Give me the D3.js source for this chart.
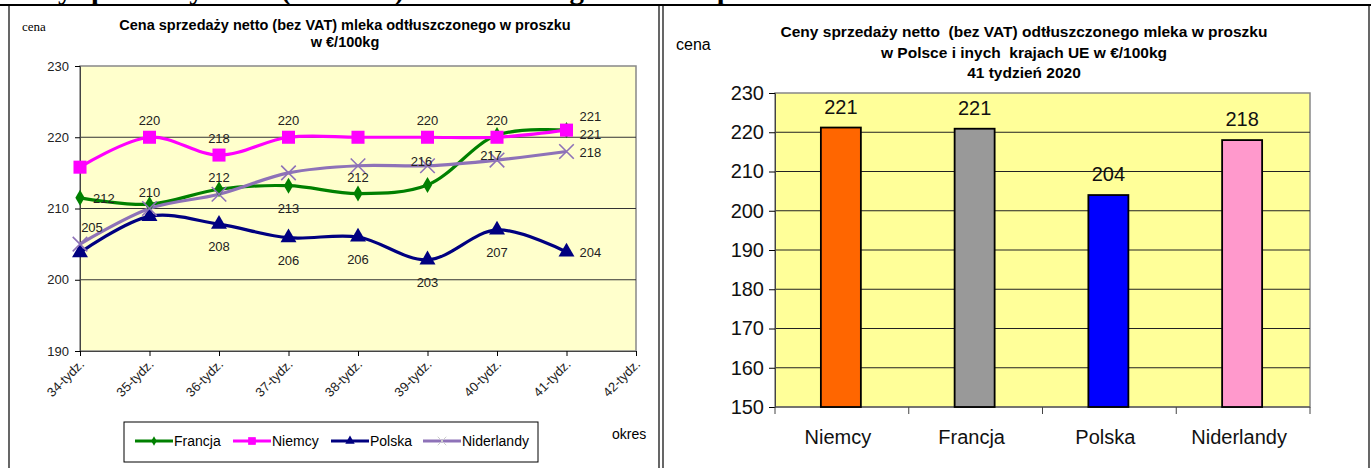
<!DOCTYPE html>
<html>
<head>
<meta charset="utf-8">
<script src="https://cdn.jsdelivr.net/npm/d3@7"></script>
<style>
  body { margin: 0; background: #fff; }
  text { font-family: "Liberation Sans", Arial, sans-serif; }
</style>
</head>
<body>
<div id="canvas"></div>
<script>
// ---- data: left line chart
const weeks = ["34-tydz.", "35-tydz.", "36-tydz.", "37-tydz.", "38-tydz.", "39-tydz.", "40-tydz.", "41-tydz.", "42-tydz."];
const francja = [211.5, 210.6, 212.7, 213.2, 212.1, 213.3, 220.3, 221];
const niemcy = [215.8, 220, 217.5, 220, 220, 220, 220, 221];
const polska = [203.8, 208.9, 207.8, 205.9, 206, 202.8, 207, 203.9];
const niderlandy = [205, 210, 212, 215, 216, 216, 216.8, 218];
// which points carry a visible value label (null = none)
const francjaLabels = ["212", null, null, "213", "212", null, null, "221"];
const niemcyLabels = [null, "220", "218", "220", null, "220", "220", "221"];
const polskaLabels = [null, null, "208", "206", "206", "203", "207", "204"];
const niderlandyLabels = ["205", "210", "212", null, null, "216", "217", "218"];
const leftTicks = [190, 200, 210, 220, 230];

// ---- data: right bar chart
const countries = ["Niemcy", "Francja", "Polska", "Niderlandy"];
const week41 = [221.2, 220.9, 204, 218];
const rightTicks = [150, 160, 170, 180, 190, 200, 210, 220, 230];

const width = 1371, height = 468;
const svg = d3.select("#canvas").append("svg")
    .attr("width", width).attr("height", height);

// page text cut off at the top
svg.append("text")
    .attr("x", 8).attr("y", -1)
    .style("font-family", "'Liberation Serif', 'Times New Roman', serif")
    .style("font-weight", "bold").style("font-size", "29px")
    .text("Ceny sprzedaży netto (bez VAT) odtłuszczonego mleka w proszku");

// frames
svg.append("line").attr("x1", 0).attr("x2", width).attr("y1", 5).attr("y2", 5)
    .attr("stroke", "#000").attr("stroke-width", 2);
[9, 659, 663, 1369].forEach(x => {
    svg.append("line").attr("x1", x).attr("x2", x).attr("y1", 5).attr("y2", height)
        .attr("stroke", "#000").attr("stroke-width", 1.2);
});

// ================= left chart =================
const L = svg.append("g");
const x = d3.scalePoint().domain(weeks).range([80, 636]);
const y = d3.scaleLinear().domain([190, 230]).range([351, 66]);

L.append("text").attr("x", 22).attr("y", 31)
    .style("font-family", "'Liberation Serif', serif").style("font-size", "13px").text("cena");
L.append("text").attr("x", 345).attr("y", 30).attr("text-anchor", "middle")
    .style("font-weight", "bold").style("font-size", "14.5px")
    .text("Cena sprzedaży netto (bez VAT) mleka odtłuszczonego w proszku");
L.append("text").attr("x", 345).attr("y", 47).attr("text-anchor", "middle")
    .style("font-weight", "bold").style("font-size", "14.5px").text("w €/100kg");

L.append("rect").attr("x", 80).attr("y", y(230)).attr("width", 636 - 80).attr("height", y(190) - y(230))
    .attr("fill", "#FFFFCC").attr("stroke", "#888").attr("stroke-width", 1.5);

L.selectAll("line.grid").data(leftTicks.slice(1, -1)).enter().append("line")
    .attr("class", "grid")
    .attr("x1", 80).attr("x2", 636).attr("y1", d => y(d)).attr("y2", d => y(d))
    .attr("stroke", "#333").attr("stroke-width", 1);

const yAxisL = L.append("g").attr("transform", "translate(80,0)")
    .call(d3.axisLeft(y).tickValues(leftTicks).tickSize(5).tickPadding(6).tickFormat(d3.format("d")));
yAxisL.select(".domain").attr("stroke", "#444");
yAxisL.selectAll("text").style("font-size", "13px").attr("fill", "#222");

const xAxisL = L.append("g").attr("transform", "translate(0,351)")
    .call(d3.axisBottom(x).tickSize(5).tickFormat(""));
xAxisL.select(".domain").attr("stroke", "#444");
L.selectAll("text.xlab").data(weeks).enter().append("text")
    .attr("class", "xlab")
    .attr("text-anchor", "end")
    .attr("transform", d => `translate(${x(d) + 5},${365}) rotate(-45)`)
    .style("font-size", "13px").attr("fill", "#222")
    .text(d => d);

L.append("text").attr("x", 612).attr("y", 439).style("font-size", "14px").text("okres");

const series = [
    { name: "Francja", values: francja, labels: francjaLabels, color: "#008000", symbol: d3.symbolDiamond, size: 75,
      place: ["r", null, null, "b", "a", null, null, "rd"] },
    { name: "Niemcy", values: niemcy, labels: niemcyLabels, color: "#FF00FF", symbol: d3.symbolSquare, size: 170,
      place: [null, "a", "a", "a", null, "a", "a", "ru"] },
    { name: "Polska", values: polska, labels: polskaLabels, color: "#000080", symbol: d3.symbolTriangle, size: 110,
      place: [null, null, "b", "b", "b", "b", "b", "r"] },
    { name: "Niderlandy", values: niderlandy, labels: niderlandyLabels, color: "#8E72B8", symbol: d3.symbolTimes, size: 140,
      place: ["ar", "a", "a", null, null, "c", "c", "r"] }
];

const line = d3.line()
    .x((d, i) => x(weeks[i]))
    .y(d => y(d))
    .curve(d3.curveCatmullRom.alpha(0.5));

const offsets = {
    a: [0, -12, "middle"], b: [0, 27, "middle"], r: [13, 5, "start"],
    ru: [13, -9, "start"], rd: [13, 9, "start"], ar: [12, -12, "middle"], c: [-6, 0, "middle"]
};

series.forEach(s => {
    L.append("path").datum(s.values)
        .attr("d", line).attr("fill", "none")
        .attr("stroke", s.color).attr("stroke-width", 3.2);
});
series.forEach(s => {
    const stroke = s.symbol === d3.symbolTimes;
    L.selectAll(null).data(s.values).enter().append("path")
        .attr("transform", (d, i) => `translate(${x(weeks[i])},${y(d)})`)
        .attr("d", d3.symbol().type(s.symbol).size(s.size))
        .attr("fill", stroke ? "none" : s.color)
        .attr("stroke", s.color).attr("stroke-width", stroke ? 1.6 : 0);
});
series.forEach(s => {
    s.values.forEach((v, i) => {
        if (!s.labels[i]) return;
        const o = offsets[s.place[i]];
        L.append("text")
            .attr("x", x(weeks[i]) + o[0]).attr("y", y(v) + o[1])
            .attr("text-anchor", o[2])
            .style("font-size", "13px").attr("fill", "#222")
            .text(s.labels[i]);
    });
});

// legend
const lg = L.append("g");
lg.append("rect").attr("x", 124).attr("y", 422).attr("width", 414).attr("height", 40)
    .attr("fill", "#fff").attr("stroke", "#000").attr("stroke-width", 1);
const legendX = [135, 233, 331, 423];
series.forEach((s, i) => {
    const lx = legendX[i];
    lg.append("line").attr("x1", lx).attr("x2", lx + 38).attr("y1", 441).attr("y2", 441)
        .attr("stroke", s.color).attr("stroke-width", 3.2);
    const stroke = s.symbol === d3.symbolTimes;
    lg.append("path").attr("transform", `translate(${lx + 19},441)`)
        .attr("d", d3.symbol().type(s.symbol).size(s.size * 0.35))
        .attr("fill", stroke ? "none" : s.color)
        .attr("stroke", stroke ? "#ccc" : s.color).attr("stroke-width", stroke ? 1 : 0);
    lg.append("text").attr("x", lx + 39).attr("y", 446).style("font-size", "14px").text(s.name);
});

// ================= right chart =================
const R = svg.append("g");
const xb = d3.scaleBand().domain(countries).range([775, 1310]).paddingInner(0).paddingOuter(0);
const yb = d3.scaleLinear().domain([150, 230]).range([407, 93]);

R.append("text").attr("x", 676).attr("y", 50).style("font-size", "16px").text("cena");
const titleR = ["Ceny sprzedaży netto  (bez VAT) odtłuszczonego mleka w proszku",
    "w Polsce i inych  krajach UE w €/100kg", "41 tydzień 2020"];
titleR.forEach((t, i) => {
    R.append("text").attr("x", 1024).attr("y", 37 + i * 20.5).attr("text-anchor", "middle")
        .style("font-weight", "bold").style("font-size", "15.5px").style("white-space", "pre")
        .attr("xml:space", "preserve").text(t);
});

R.append("rect").attr("x", 775).attr("y", yb(230)).attr("width", 1310 - 775).attr("height", yb(150) - yb(230))
    .attr("fill", "#FFFF99").attr("stroke", "#888").attr("stroke-width", 1.5);
R.selectAll("line.grid").data(rightTicks.slice(1, -1)).enter().append("line")
    .attr("x1", 775).attr("x2", 1310).attr("y1", d => yb(d)).attr("y2", d => yb(d))
    .attr("stroke", "#222").attr("stroke-width", 1);

const yAxisR = R.append("g").attr("transform", "translate(775,0)")
    .call(d3.axisLeft(yb).tickValues(rightTicks).tickSize(6).tickPadding(5).tickFormat(d3.format("d")));
yAxisR.select(".domain").attr("stroke", "#444");
yAxisR.selectAll("text").style("font-size", "20px").attr("fill", "#111");

// category boundary ticks
const xAxisR = R.append("g").attr("transform", "translate(0,407)");
xAxisR.append("line").attr("x1", 775).attr("x2", 1310).attr("y1", 0).attr("y2", 0).attr("stroke", "#444");
xAxisR.selectAll("line.t").data(countries.concat([null])).enter().append("line")
    .attr("x1", (d, i) => 775 + i * xb.bandwidth()).attr("x2", (d, i) => 775 + i * xb.bandwidth())
    .attr("y1", 0).attr("y2", 7).attr("stroke", "#444");
xAxisR.selectAll("text").data(countries).enter().append("text")
    .attr("x", d => xb(d) + xb.bandwidth() / 2 - 4).attr("y", 37)
    .attr("text-anchor", "middle").style("font-size", "20px").attr("fill", "#111")
    .text(d => d);

const barColors = ["#FF6600", "#999999", "#0000FF", "#FF99CC"];
const barW = 40;
R.selectAll("rect.bar").data(week41).enter().append("rect")
    .attr("class", "bar")
    .attr("x", (d, i) => xb(countries[i]) + xb.bandwidth() / 2 - barW / 2 - 1)
    .attr("y", d => yb(d))
    .attr("width", barW).attr("height", d => yb(150) - yb(d))
    .attr("fill", (d, i) => barColors[i])
    .attr("stroke", "#000").attr("stroke-width", 1.8);
R.selectAll("text.val").data(week41).enter().append("text")
    .attr("x", (d, i) => xb(countries[i]) + xb.bandwidth() / 2 - 1)
    .attr("y", d => yb(d) - 14)
    .attr("text-anchor", "middle").style("font-size", "20px").attr("fill", "#111")
    .text(d => d3.format(".0f")(d));
</script>
</body>
</html>
